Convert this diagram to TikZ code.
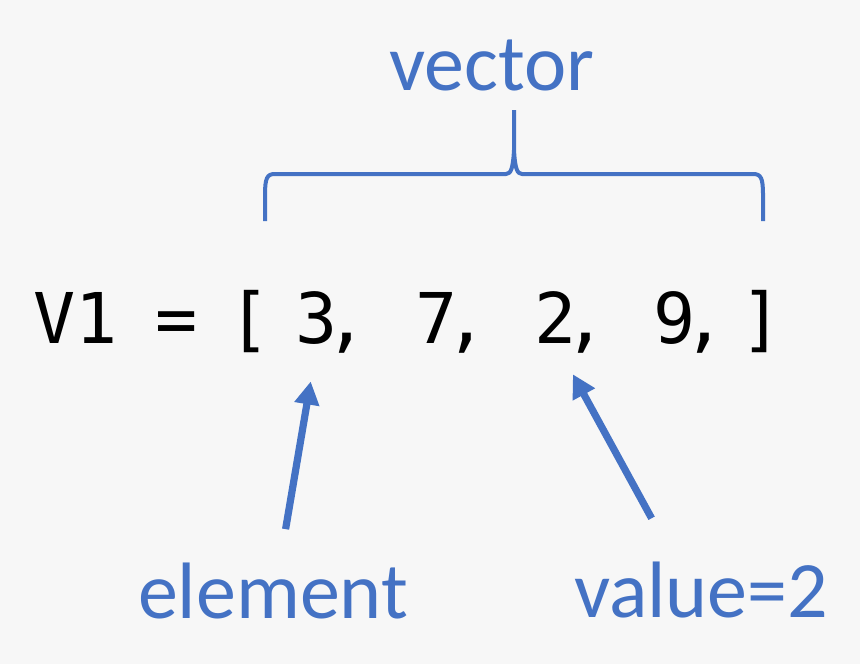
\documentclass[tikz,border=0pt]{standalone}
\usepackage{fontspec}
\setmainfont{Carlito}
\setmonofont{DejaVu Sans Mono}
\usetikzlibrary{arrows.meta, calc}
\definecolor{pagebg}{HTML}{F7F7F7}
\definecolor{markline}{HTML}{4472C4}
\tikzset{
  lbl/.style     = {text=markline, font=\fontsize{40}{48}\selectfont, inner sep=0pt, anchor=base},
  code/.style    = {text=black, font=\ttfamily\fontsize{35}{42}\selectfont, inner sep=0pt, anchor=base},
  pointer/.style = {-{Triangle[length=11.5pt, width=12pt]}, line width=3.6pt, draw=markline},
  bracket/.style = {line width=2pt, draw=markline, line join=round},
}
\begin{document}
\begin{tikzpicture}[x=0.5pt, y=-0.5pt]
	\fill[pagebg] (0,0) rectangle (860,664);
	% the vector row
	\node[code] (name)  at (76,343)  {V1};
	\node[code] (eq)    at (177,343) {=};
	\node[code] (open)  at (250,343) {[};
	\foreach \val/\xc in {3/317, 7/437, 2/556, 9/675}{
		\node[code] (d\val) at (\xc,343) {\val};
		\node[code] (c\val) at (\xc+30,343) {,};
	}
	\node[code] (close) at (762,343) {]};
	% labels
	\node[lbl] (vector)  at (492,90)  {vector};
	\node[lbl] (element) at (273,618) {element};
	\node[lbl] (value)   at (701,617) {value=2};
	% brace over the row
	\draw[bracket] (265,221) -- (265,195) .. controls (265,178) and (267,174) .. (275,174)
		-- (506,174) .. controls (511,174) and (513,168) .. (514,150) -- (514,110)
		(514,150) .. controls (515,168) and (517,174) .. (522,174)
		-- (753,174) .. controls (761,174) and (763,178) .. (763,195) -- (763,221);
	% arrows
	\draw[pointer, shorten <=16.7pt, shorten >=18.8pt] ([xshift=3.5pt]element.north) -- (d3.south);
	\draw[pointer, shorten <=24.4pt, shorten >=17.6pt] ([xshift=-13pt]value.north) -- (d2.south);
\end{tikzpicture}
\end{document}
